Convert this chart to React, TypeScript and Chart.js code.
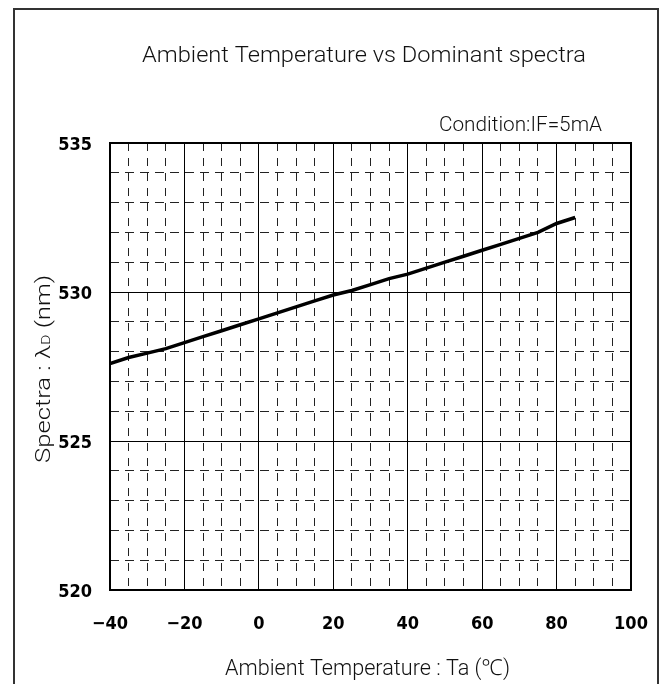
import React, { useEffect, useRef } from "react";
import { Chart, registerables } from "chart.js";

Chart.register(...registerables);

const temperatures: number[] = [-40, -35, -30, -25, -20, -15, -10, -5, 0, 5, 10, 15, 20, 25, 30, 35, 40, 45, 50, 55, 60, 65, 70, 75, 80, 85];
const spectra: number[] = [527.6, 527.8, 527.95, 528.1, 528.3, 528.5, 528.7, 528.9, 529.1, 529.3, 529.5, 529.7, 529.9, 530.05, 530.25, 530.45, 530.6, 530.8, 531.0, 531.2, 531.4, 531.6, 531.8, 532.0, 532.3, 532.5];

const xMin = -40;
const xMax = 100;
const xMajorStep = 20;
const xMinorStep = 5;
const yMin = 520;
const yMax = 535;
const yMajorStep = 5;
const yMinorStep = 1;

const titleText = "Ambient Temperature vs Dominant spectra";
const conditionText = "Condition:IF=5mA";
const xTitleText = "Ambient Temperature : Ta (℃)";
const yTitleParts = ["Spectra : λ", "D", " (nm)"];

const TEXT_FONT = "'Roboto', 'Noto Sans', sans-serif";
const TICK_FONT = "'Liberation Sans Narrow', 'DejaVu Sans Condensed', 'Arial Narrow', sans-serif";

type Part = { text: string; font: string; dy?: number };

function drawFitted(
  ctx: CanvasRenderingContext2D,
  parts: Part[],
  x: number,
  y: number,
  targetWidth: number,
  rotate: boolean
) {
  ctx.save();
  ctx.translate(x, y);
  if (rotate) ctx.rotate(-Math.PI / 2);
  let total = 0;
  for (const p of parts) {
    ctx.font = p.font;
    total += ctx.measureText(p.text).width;
  }
  ctx.scale(targetWidth / total, 1);
  ctx.fillStyle = "#111";
  ctx.textAlign = "left";
  ctx.textBaseline = "alphabetic";
  let cx = 0;
  for (const p of parts) {
    ctx.font = p.font;
    ctx.fillText(p.text, cx, p.dy || 0);
    cx += ctx.measureText(p.text).width;
  }
  ctx.restore();
}

const decorPlugin = {
  id: "decor",
  afterDraw(chart: any) {
    const ctx: CanvasRenderingContext2D = chart.ctx;
    const area = chart.chartArea;
    ctx.save();
    // outer frame
    ctx.strokeStyle = "#333";
    ctx.lineWidth = 2;
    ctx.strokeRect(14, 9, 644, 700);
    // plot frame
    ctx.strokeStyle = "#000";
    ctx.lineWidth = 2;
    ctx.strokeRect(area.left, area.top, area.right - area.left, area.bottom - area.top);
    ctx.restore();

    const f22 = `300 22px ${TEXT_FONT}`;
    drawFitted(ctx, [{ text: titleText, font: f22 }], 142, 61.5, 444, false);
    drawFitted(ctx, [{ text: conditionText, font: `300 21px ${TEXT_FONT}` }], 439, 131, 163, false);
    drawFitted(ctx, [{ text: xTitleText, font: f22 }], 225, 674.5, 285, false);
    drawFitted(
      ctx,
      [
        { text: yTitleParts[0], font: `300 21px ${TEXT_FONT}` },
        { text: yTitleParts[1], font: `300 13px ${TEXT_FONT}` },
        { text: yTitleParts[2], font: `300 21px ${TEXT_FONT}` },
      ],
      50,
      463,
      188,
      true
    );
  },
};

export default function App() {
  const canvasRef = useRef<HTMLCanvasElement | null>(null);

  useEffect(() => {
    if (!canvasRef.current) return;
    const points = temperatures.map((t, i) => ({ x: t, y: spectra[i] }));
    const chart = new Chart(canvasRef.current, {
      type: "line",
      data: {
        datasets: [
          {
            data: points,
            borderColor: "#000",
            borderWidth: 3.5,
            pointRadius: 0,
            tension: 0,
            fill: false,
          },
        ],
      },
      options: {
        animation: false,
        responsive: false,
        devicePixelRatio: 1,
        layout: { padding: { left: 0, top: 143, right: 33, bottom: 0 } },
        plugins: {
          legend: { display: false },
          tooltip: { enabled: false },
          title: { display: false },
        },
        scales: {
          x: {
            type: "linear",
            position: "bottom",
            min: xMin,
            max: xMax,
            afterFit: (s: any) => {
              s.height = 94;
              s.paddingLeft = 0;
              s.paddingRight = 0;
            },
            ticks: {
              stepSize: xMajorStep,
              padding: 24,
              color: "#000",
              font: { family: TICK_FONT, size: 18, weight: "bold" },
              callback: (v: any) => String(v).replace("-", "−"),
            },
            grid: { color: "#000", lineWidth: 1, drawTicks: false },
            border: { display: false },
          },
          x2: {
            type: "linear",
            position: "top",
            min: xMin,
            max: xMax,
            afterFit: (s: any) => {
              s.height = 0;
              s.paddingLeft = 0;
              s.paddingRight = 0;
            },
            ticks: { display: false, stepSize: xMinorStep },
            grid: {
              drawTicks: false,
              lineWidth: 1,
              color: (c: any) =>
                c.tick && Math.abs(c.tick.value % xMajorStep) < 1e-9 ? "rgba(0,0,0,0)" : "#222",
            },
            border: { display: false, dash: [8, 7] },
          },
          y: {
            type: "linear",
            position: "left",
            min: yMin,
            max: yMax,
            afterFit: (s: any) => {
              s.width = 110;
              s.paddingTop = 0;
              s.paddingBottom = 0;
            },
            ticks: {
              stepSize: yMajorStep,
              padding: 18,
              labelOffset: 2,
              color: "#000",
              font: { family: TICK_FONT, size: 18, weight: "bold" },
            },
            grid: { color: "#000", lineWidth: 1, drawTicks: false },
            border: { display: false },
          },
          y2: {
            type: "linear",
            position: "right",
            min: yMin,
            max: yMax,
            afterFit: (s: any) => {
              s.width = 0;
              s.paddingTop = 0;
              s.paddingBottom = 0;
            },
            ticks: { display: false, stepSize: yMinorStep },
            grid: {
              drawTicks: false,
              lineWidth: 1,
              color: (c: any) =>
                c.tick && Math.abs((c.tick.value - yMin) % yMajorStep) < 1e-9 ? "rgba(0,0,0,0)" : "#222",
            },
            border: { display: false, dash: [9, 6] },
          },
        },
      },
      plugins: [decorPlugin],
    });
    return () => chart.destroy();
  }, []);

  return (
    <div style={{ position: "absolute", left: 0, top: 0, width: 664, height: 684, background: "#fff" }}>
      <canvas ref={canvasRef} width={664} height={684} style={{ display: "block" }} />
    </div>
  );
}
